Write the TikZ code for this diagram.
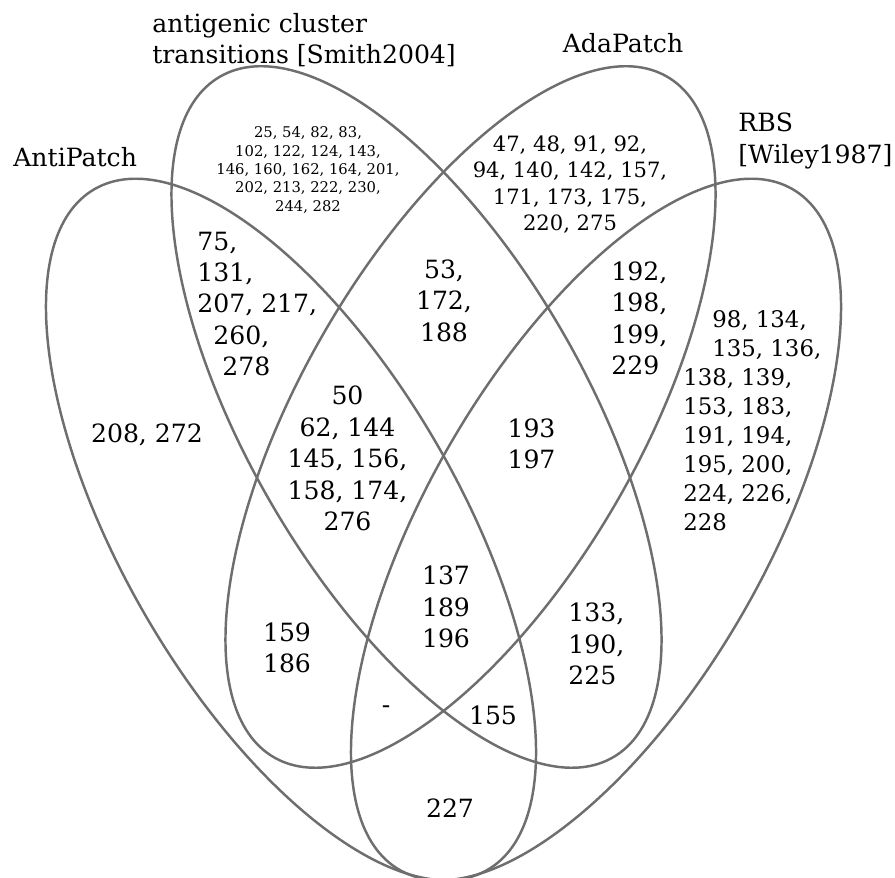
\documentclass[tikz,border=0pt]{standalone}
\usepackage{fontspec}
\setmainfont{DejaVu Serif}
\definecolor{outline}{RGB}{110,110,110}

\begin{document}
\begin{tikzpicture}[
	venn/.style = {draw=outline, line width=1.4pt},
	big/.style = {inner sep=0pt, align=center, font=\fontsize{14.3}{17.9}\selectfont},
	mid/.style = {inner sep=0pt, align=center, font=\fontsize{12.0}{15.1}\selectfont},
	small/.style = {inner sep=0pt, align=center, font=\fontsize{8.4}{10.45}\selectfont}]
	\useasboundingbox (0,0) rectangle (17.9,17.56);
	% the four sets
	\draw[venn, rotate around={-60:(5.82,6.97)}] (5.82,6.97) ellipse [x radius=7.86, y radius=3.38];
	\draw[venn, rotate around={-60:(8.33,9.22)}] (8.33,9.22) ellipse [x radius=7.86, y radius=3.38];
	\draw[venn, rotate around={60:(9.41,9.22)}] (9.41,9.22) ellipse [x radius=7.86, y radius=3.38];
	\draw[venn, rotate around={60:(11.92,6.97)}] (11.92,6.97) ellipse [x radius=7.86, y radius=3.38];
	% set names
	\node[big, align=left, anchor=west] (smith) at (3.04,16.76) {antigenic cluster\\transitions [Smith2004]};
	\node[big] (ada) at (12.46,16.70) {AdaPatch};
	\node[big, align=left, anchor=west] (rbs) at (14.76,14.74) {RBS\\{}[Wiley1987]};
	\node[big, anchor=west] (anti) at (0.26,14.42) {AntiPatch};
	% positions in each region
	\node[small] (s) at (6.16,14.16) {25, 54, 82, 83,\\102, 122, 124, 143,\\146, 160, 162, 164, 201,\\202, 213, 222, 230,\\244, 282};
	\node[mid] (a) at (11.40,13.87) {47, 48, 91, 92,\\94, 140, 142, 157,\\171, 173, 175,\\220, 275};
	\node[big, align=left, anchor=west] (as) at (3.94,11.48) {75,\\131,\\207, 217,\\\hspace{0.32cm}260,\\\hspace{0.5cm}278};
	\node[big] (an) at (2.94,8.86) {208, 272};
	\node[big] (ans) at (6.95,8.39) {50\\62, 144\\145, 156,\\158, 174,\\276};
	\node[big] (sa) at (8.88,11.55) {53,\\172,\\188};
	\node[big, align=left, anchor=west] (ar) at (12.22,11.19) {192,\\198,\\199,\\229};
	\node[big] (sar) at (10.63,8.68) {193\\197};
	\node[inner sep=0pt, align=left, anchor=west, font=\fontsize{13.0}{16.5}\selectfont] (r) at (13.66,9.15)
		{\hspace{0.58cm}98, 134,\\\hspace{0.58cm}135, 136,\\138, 139,\\153, 183,\\191, 194,\\195, 200,\\224, 226,\\228};
	\node[big] (all) at (8.92,5.42) {137\\189\\196};
	\node[big] (na) at (5.74,4.60) {159\\186};
	\node[big, align=left, anchor=west] (sr) at (11.36,4.68) {133,\\190,\\225};
	\node[big] (nar) at (7.72,3.36) {-};
	\node[big] (nsr) at (9.86,3.26) {155};
	\node[big] (nr) at (9.00,1.40) {227};
\end{tikzpicture}
\end{document}
